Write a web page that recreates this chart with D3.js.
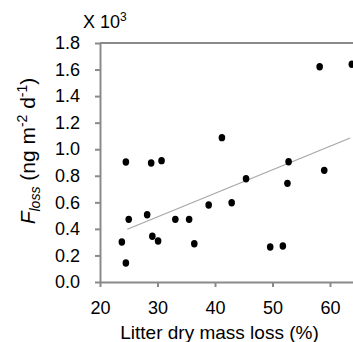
<!DOCTYPE html>
<html>
<head>
<meta charset="utf-8">
<script src="https://cdn.jsdelivr.net/npm/d3@7"></script>
<style>
  html, body { margin: 0; padding: 0; background: #fff; }
  svg { display: block; font-family: "Liberation Sans", Arial, sans-serif; }
</style>
</head>
<body>
<svg id="chart" width="353" height="342"></svg>
<script>
// Data
const massLoss = [24.5, 28.9, 30.7, 25.0, 28.2, 33.1, 35.5, 38.9, 23.8, 29.1, 30.1, 36.4, 24.5,
                  41.2, 52.8, 59.0, 45.4, 52.6, 42.9, 49.6, 51.8, 58.2, 63.8];
const fLoss    = [0.904, 0.896, 0.914, 0.472, 0.507, 0.472, 0.472, 0.580, 0.301, 0.344, 0.309, 0.288, 0.143,
                  1.087, 0.906, 0.841, 0.778, 0.743, 0.597, 0.264, 0.271, 1.621, 1.640];
const trendX = [24.75, 63.5];
const trendY = [0.397, 1.085];
const xTicks = [20, 30, 40, 50, 60];
const yTicks = [0, 0.2, 0.4, 0.6, 0.8, 1.0, 1.2, 1.4, 1.6, 1.8];

const svg = d3.select("#chart");
const x = d3.scaleLinear().domain([20, 64]).range([100, 353]);
const y = d3.scaleLinear().domain([0, 1.8]).range([282, 43]);

const axisColor = "#8a8a8a";

// top border
svg.append("line")
  .attr("x1", x(20)).attr("x2", x(64))
  .attr("y1", y(1.8)).attr("y2", y(1.8))
  .attr("stroke", axisColor).attr("stroke-width", 2);

const gy = svg.append("g").attr("transform", `translate(${x(20)},0)`)
  .call(d3.axisLeft(y).tickValues(yTicks).tickFormat(d3.format(".1f"))
        .tickSize(5).tickSizeOuter(0).tickPadding(15));
const gx = svg.append("g").attr("transform", `translate(0,${y(0)})`)
  .call(d3.axisBottom(x).tickValues(xTicks).tickFormat(d3.format("d"))
        .tickSize(5).tickSizeOuter(0).tickPadding(14));

[gx, gy].forEach(g => {
  g.select(".domain").attr("stroke", axisColor).attr("stroke-width", 2);
  g.selectAll(".tick line").attr("stroke", axisColor).attr("stroke-width", 2);
  g.selectAll(".tick text").attr("fill", "#000")
    .style("font-family", '"Liberation Sans", Arial, sans-serif').style("font-size", "18px");
});

// trend line
svg.append("line")
  .attr("x1", x(trendX[0])).attr("y1", y(trendY[0]))
  .attr("x2", x(trendX[1])).attr("y2", y(trendY[1]))
  .attr("stroke", "#a6a6a6").attr("stroke-width", 1.2);

// points
svg.append("g").selectAll("ellipse")
  .data(massLoss.map((d, i) => [d, fLoss[i]]))
  .join("ellipse")
  .attr("cx", d => x(d[0])).attr("cy", d => y(d[1]))
  .attr("rx", 3.3).attr("ry", 3.7)
  .attr("fill", "#000");

// x title
svg.append("text")
  .attr("x", 219.5).attr("y", 339)
  .attr("text-anchor", "middle")
  .style("font-size", "19px")
  .text("Litter dry mass loss (%)");

// y title
const yt = svg.append("text")
  .attr("transform", "translate(35,151) rotate(-90)")
  .attr("text-anchor", "middle")
  .style("font-size", "21px");
yt.append("tspan").style("font-style", "italic").text("F");
yt.append("tspan").style("font-style", "italic").style("font-size", "14px").attr("dy", 5).text("loss");
yt.append("tspan").attr("dy", -5).text(" (ng m");
yt.append("tspan").style("font-size", "14px").attr("dy", -8).text("-2");
yt.append("tspan").attr("dy", 8).text(" d");
yt.append("tspan").style("font-size", "14px").attr("dy", -8).text("-1");
yt.append("tspan").attr("dy", 8).text(")");

// multiplier
const mt = svg.append("text").attr("x", 83).attr("y", 27.5).style("font-size", "18px");
mt.append("tspan").text("X 10");
mt.append("tspan").style("font-size", "12px").attr("dy", -7).text("3");
</script>
</body>
</html>
